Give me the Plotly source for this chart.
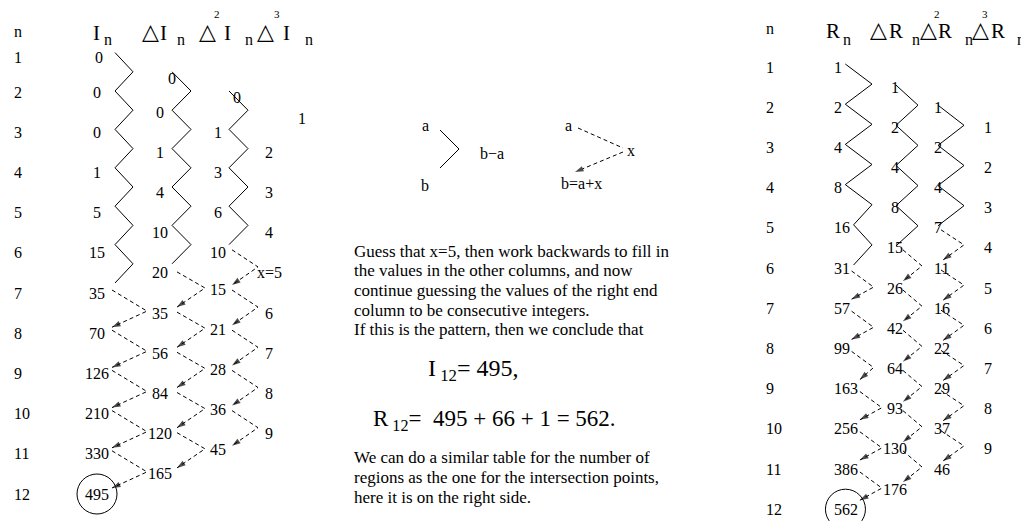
import plotly.graph_objects as go

# ---------------- data ----------------
ROW_NUMBERS = list(range(1, 13))

I_VALUES = [0, 0, 0, 1, 5, 15, 35, 70, 126, 210, 330, 495]
DI_VALUES = [0, 0, 1, 4, 10, 20, 35, 56, 84, 120, 165]
D2I_VALUES = [0, 1, 3, 6, 10, 15, 21, 28, 36, 45]
D3I_VALUES = [1, 2, 3, 4, 5, 6, 7, 8, 9]
I_KNOWN_COUNTS = [7, 6, 5, 4]          # entries per column found by forward differencing
I_GUESS_LABEL = "x=5"

R_VALUES = [1, 2, 4, 8, 16, 31, 57, 99, 163, 256, 386, 562]
DR_VALUES = [1, 2, 4, 8, 15, 26, 42, 64, 93, 130, 176]
D2R_VALUES = [1, 2, 4, 7, 11, 16, 22, 29, 37, 46]
D3R_VALUES = [1, 2, 3, 4, 5, 6, 7, 8, 9]
R_KNOWN_COUNTS = [6, 5, 4, 3]

TEXT_TOP = [
    "Guess that x=5, then work backwards to fill in",
    "the values in the other columns, and now",
    "continue guessing the values of the right end",
    "column to be consecutive integers.",
    "If this is the pattern, then we conclude that",
]
TEXT_BOTTOM = [
    "We can do a similar table for the number of",
    "regions as the one for the intersection points,",
    "here it is on the right side.",
]

# ---------------- layout / style constants ----------------
W, H = 1021, 521
SERIF = "Liberation Serif, Times New Roman, serif"
SYM = "DejaVu Sans"
FS = 16
DIGIT_W = 8.3


def left_y(r):
    return 57 + (r - 1) * 35 if r < 2 else 92 + (r - 2) * 40.2


def left_line_y(r):
    return 91 + (r - 2) * 38.4


def right_y(r):
    return 67 + (r - 1) * 40.2


fig = go.Figure()
ann = []
shapes = []


def text(x, y, s, size=FS, xanchor="center", family=SERIF):
    ann.append(dict(x=x, y=y, xref="x", yref="y", text=s, showarrow=False,
                    xanchor=xanchor, yanchor="middle", borderpad=0,
                    font=dict(family=family, size=size, color="black")))


def line(xs, ys, dashed=False, arrow=False):
    kw = dict(x=xs, y=ys, hoverinfo="skip", cliponaxis=False, showlegend=False,
              line=dict(color="black", width=1, dash="4px,3px" if dashed else "solid"))
    if arrow:
        kw["mode"] = "lines+markers"
        kw["marker"] = dict(symbol="arrow", size=[0] * (len(xs) - 1) + [9],
                            angleref="previous", color="black", line=dict(width=0))
    else:
        kw["mode"] = "lines"
    fig.add_trace(go.Scatter(**kw))


# ================= LEFT TABLE =================
left_cols = [I_VALUES, DI_VALUES, D2I_VALUES, D3I_VALUES]
LEFT_COL_X = [97, 160, 218, 269]
LEFT_FIRST_SHIFT = [(2, 0), (12, 3.5), (19, 5.5), (33, 6)]
D2I_DASHED_DY = -4   # labels in the back-filled part of the 2nd-difference column sit a little higher

# headers
text(13, 31, "n", xanchor="left")
text(96, 33, "I", size=21)
text(108, 39, "n")
for tx, ix, nx, sup, supx in [(150, 163, 181, "", 0), (207, 227, 249, "2", 217), (265, 286, 309, "3", 277)]:
    text(tx, 31, "△", size=22, family=SYM)
    if sup:
        text(supx, 14, sup, size=11)
    text(ix, 33, "I", size=21)
    text(nx, 39, "n")

for n in ROW_NUMBERS:
    text(13, left_y(n), str(n), xanchor="left")

for c, vals in enumerate(left_cols):
    for j, v in enumerate(vals):
        r = 1 + j + 0.5 * c
        x, y = LEFT_COL_X[c], left_y(r)
        if j == 0:
            x += LEFT_FIRST_SHIFT[c][0]
            y += LEFT_FIRST_SHIFT[c][1]
        if c == 2 and j >= I_KNOWN_COUNTS[2]:
            y += D2I_DASHED_DY
        label = str(v)
        if c == 3 and j == I_KNOWN_COUNTS[3]:
            label = I_GUESS_LABEL
        text(x, y, label)

# solid zig-zags (forward differences)
XL, XV = [115, 172, 229], [133, 191, 248]
for c in range(3):
    k = I_KNOWN_COUNTS[c]
    xs, ys = [], []
    for j in range(k):
        r = 1 + j + 0.5 * c
        xs.append(XL[c]); ys.append(left_line_y(r))
        if j < k - 1:
            xs.append(XV[c]); ys.append(left_line_y(r + 0.5))
    line(xs, ys)

# dashed back-fill with arrows
DXL, DXV = [112, 177, 232], [147, 205, 258]
DS, DV, DE = [-3, -1, -3], [-2, -5, -6], [-6, -6, -8]
for c in range(3):
    vals = left_cols[c]
    for j in range(I_KNOWN_COUNTS[c] - 1, len(vals) - 1):
        r = 1 + j + 0.5 * c
        line([DXL[c], DXV[c], DXL[c]],
             [left_y(r) + DS[c], left_y(r + 0.5) + DV[c], left_y(r + 1) + DE[c]],
             dashed=True, arrow=True)

shapes.append(dict(type="circle", xref="x", yref="y", x0=97 - 20, x1=97 + 20,
                   y0=left_y(12) - 20, y1=left_y(12) + 20, line=dict(color="black", width=1)))

# ================= RIGHT TABLE =================
right_cols = [R_VALUES, DR_VALUES, D2R_VALUES, D3R_VALUES]
R_COL_X = [833, 895, 933, 988]
R_COL_ANCHOR = ["left", "center", "left", "center"]

text(765, 28, "n", xanchor="left")
text(833, 31, "R", size=21)
text(847, 39, "n")
for tx, rx, nx, sup, supx in [(878, 896, 916, "", 0), (928, 945, 969, "2", 937), (980, 998, 1021, "3", 985)]:
    text(tx, 29, "△", size=22, family=SYM)
    if sup:
        text(supx, 14, sup, size=11)
    text(rx, 31, "R", size=21)
    text(nx, 39, "n")

for n in ROW_NUMBERS:
    text(765, right_y(n), str(n), xanchor="left")

for c, vals in enumerate(right_cols):
    for j, v in enumerate(vals):
        r = 1 + j + 0.5 * c
        text(R_COL_X[c], right_y(r), str(v), xanchor=R_COL_ANCHOR[c])


def r_end(v):
    return R_COL_X[0] + len(str(v)) * DIGIT_W


# solid zig-zags
RXV = [872, 918, 964]
RXL_FIXED = [None, 896, 938]
RDY = [-3, -2, -2]
for c in range(3):
    vals = right_cols[c]
    k = R_KNOWN_COUNTS[c]
    xs, ys = [], []
    for j in range(k):
        r = 1 + j + 0.5 * c
        xs.append(r_end(vals[j]) + 4 if c == 0 else RXL_FIXED[c])
        ys.append(right_y(r) + RDY[c])
        if j < k - 1:
            xs.append(RXV[c]); ys.append(right_y(r + 0.5) + RDY[c])
    line(xs, ys)

# dashed back-fill
RDS, RDV, RDE = [3, 2, 2], [-1, -2, -3], [-9, -7, -8]
for c in range(3):
    vals = right_cols[c]
    for j in range(R_KNOWN_COUNTS[c] - 1, len(vals) - 1):
        r = 1 + j + 0.5 * c
        if c == 0:
            x0, xv, x1 = r_end(vals[j]) + 2, r_end(vals[j]) + 24, r_end(vals[j + 1]) + 2
        elif c == 1:
            x0, xv, x1 = 903, 922, 903
        else:
            x0, xv, x1 = 941, 964, 943
        line([x0, xv, x1],
             [right_y(r) + RDS[c], right_y(r + 0.5) + RDV[c], right_y(r + 1) + RDE[c]],
             dashed=True, arrow=True)

rcx = R_COL_X[0] + len(str(R_VALUES[-1])) * DIGIT_W / 2
shapes.append(dict(type="circle", xref="x", yref="y", x0=rcx - 20, x1=rcx + 20,
                   y0=right_y(12) - 20, y1=right_y(12) + 20, line=dict(color="black", width=1)))

# ================= MIDDLE =================
text(425, 125, "a")
text(425, 185, "b")
line([440, 459, 440], [130, 149, 168])
text(492, 153, "b−a")

text(568, 125, "a")
line([578, 623], [128, 148], dashed=True)
text(631, 150, "x")
line([623, 575], [152, 172], dashed=True, arrow=True)
text(581, 183, "b=a+x")

for i, s in enumerate(TEXT_TOP):
    text(353, 251 + i * 19.7, s, size=17, xanchor="left")

text(427, 370, f"I<sub> 12</sub>= {I_VALUES[-1]},", size=24, xanchor="left")
text(372, 420, f"R<sub> 12</sub>=  {I_VALUES[-1]} + 66 + 1 = {R_VALUES[-1]}.", size=23, xanchor="left")

for i, s in enumerate(TEXT_BOTTOM):
    text(353, 457 + i * 20, s, size=17, xanchor="left")

fig.update_layout(
    width=W, height=H, margin=dict(l=0, r=0, t=0, b=0),
    paper_bgcolor="white", plot_bgcolor="white",
    xaxis=dict(range=[0, W], visible=False, fixedrange=True),
    yaxis=dict(range=[H, 0], visible=False, fixedrange=True),
    annotations=ann, shapes=shapes, showlegend=False,
)

fig.write_html("out.html", config={"displayModeBar": False},
               post_script="document.body.style.margin='0';document.body.style.overflow='hidden';")
